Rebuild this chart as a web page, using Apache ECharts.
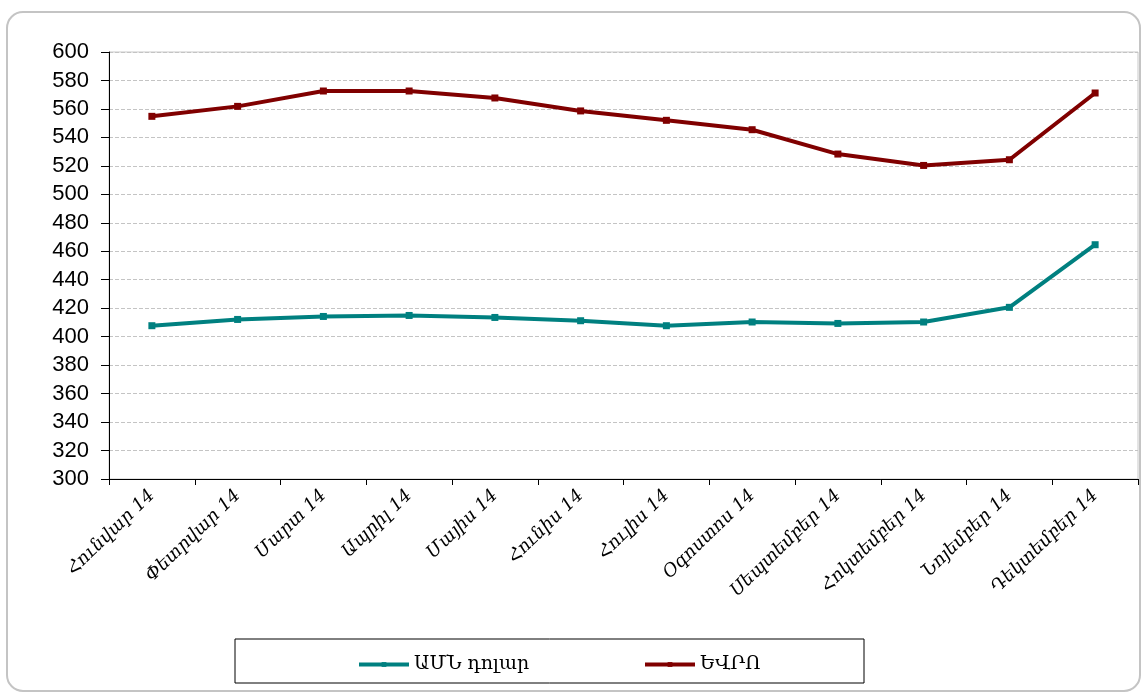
<!DOCTYPE html>
<html>
<head>
<meta charset="utf-8">
<script src="https://cdn.jsdelivr.net/npm/echarts@6/dist/echarts.min.js"></script>
<style>
html,body{margin:0;padding:0;background:#fff;}
#chart{width:1144px;height:695px;}
</style>
</head>
<body>
<div id="chart"></div>
<script>
const categories = ['Հունվար 14','Փետրվար 14','Մարտ 14','Ապրիլ 14','Մայիս 14','Հունիս 14','Հուլիս 14','Օգոստոս 14','Սեպտեմբեր 14','Հոկտեմբեր 14','Նոյեմբեր 14','Դեկտեմբեր 14'];
const usdName = 'ԱՄՆ դոլար';
const eurName = 'ԵՎՐՈ';
const usdValues = [407.7, 412.1, 414.2, 414.9, 413.5, 411.2, 407.7, 410.3, 409.3, 410.3, 420.6, 464.6];
const eurValues = [554.8, 561.8, 572.6, 572.6, 567.7, 558.6, 552.0, 545.4, 528.3, 520.3, 524.3, 571.2];
const yMin = 300, yMax = 600, yStep = 20;

const chart = echarts.init(document.getElementById('chart'));
const legendText = {fontFamily:'DejaVu Serif', fontSize:19, color:'#000'};
chart.setOption({
  backgroundColor: '#fff',
  animation: false,
  graphic: [
    {type:'rect', shape:{x:7, y:12, width:1133, height:679, r:16}, style:{fill:'none', stroke:'#c4c4c4', lineWidth:2}, z:-1},
    {type:'rect', shape:{x:235, y:639, width:629, height:44}, style:{fill:'none', stroke:'#000', lineWidth:1}}
  ],
  grid: {left:109, right:6, top:52, bottom:216, show:true, borderColor:'#c8c8c8', borderWidth:1},
  legend: [
    {data:[usdName], left:352, top:650, itemWidth:50, itemHeight:6, lineStyle:{width:4}, itemStyle:{borderWidth:0},
     textStyle:legendText},
    {data:[eurName], left:638, top:650, itemWidth:50, itemHeight:6, lineStyle:{width:4}, itemStyle:{borderWidth:0},
     textStyle:legendText}
  ],
  xAxis: {
    type:'category', data:categories, boundaryGap:true,
    axisLine:{lineStyle:{color:'#000', width:1}},
    axisTick:{show:true, length:6, lineStyle:{color:'#000'}},
    axisLabel:{rotate:44, margin:14, color:'#000', fontFamily:'DejaVu Serif', fontStyle:'italic', fontSize:18, interval:0}
  },
  yAxis: {
    type:'value', min:yMin, max:yMax, interval:yStep,
    axisLine:{show:true, lineStyle:{color:'#000', width:1}},
    axisTick:{show:true, length:8, lineStyle:{color:'#000'}},
    axisLabel:{margin:20, color:'#000', fontFamily:'Liberation Sans', fontSize:22},
    splitLine:{show:true, lineStyle:{color:'#c4c4c4', type:'dashed', width:1}}
  },
  series: [
    {name:usdName, type:'line', data:usdValues, symbol:'rect', symbolSize:7,
     lineStyle:{color:'#008080', width:4}, itemStyle:{color:'#008080'}},
    {name:eurName, type:'line', data:eurValues, symbol:'rect', symbolSize:7,
     lineStyle:{color:'#800000', width:4}, itemStyle:{color:'#800000'}}
  ]
});
</script>
</body>
</html>
